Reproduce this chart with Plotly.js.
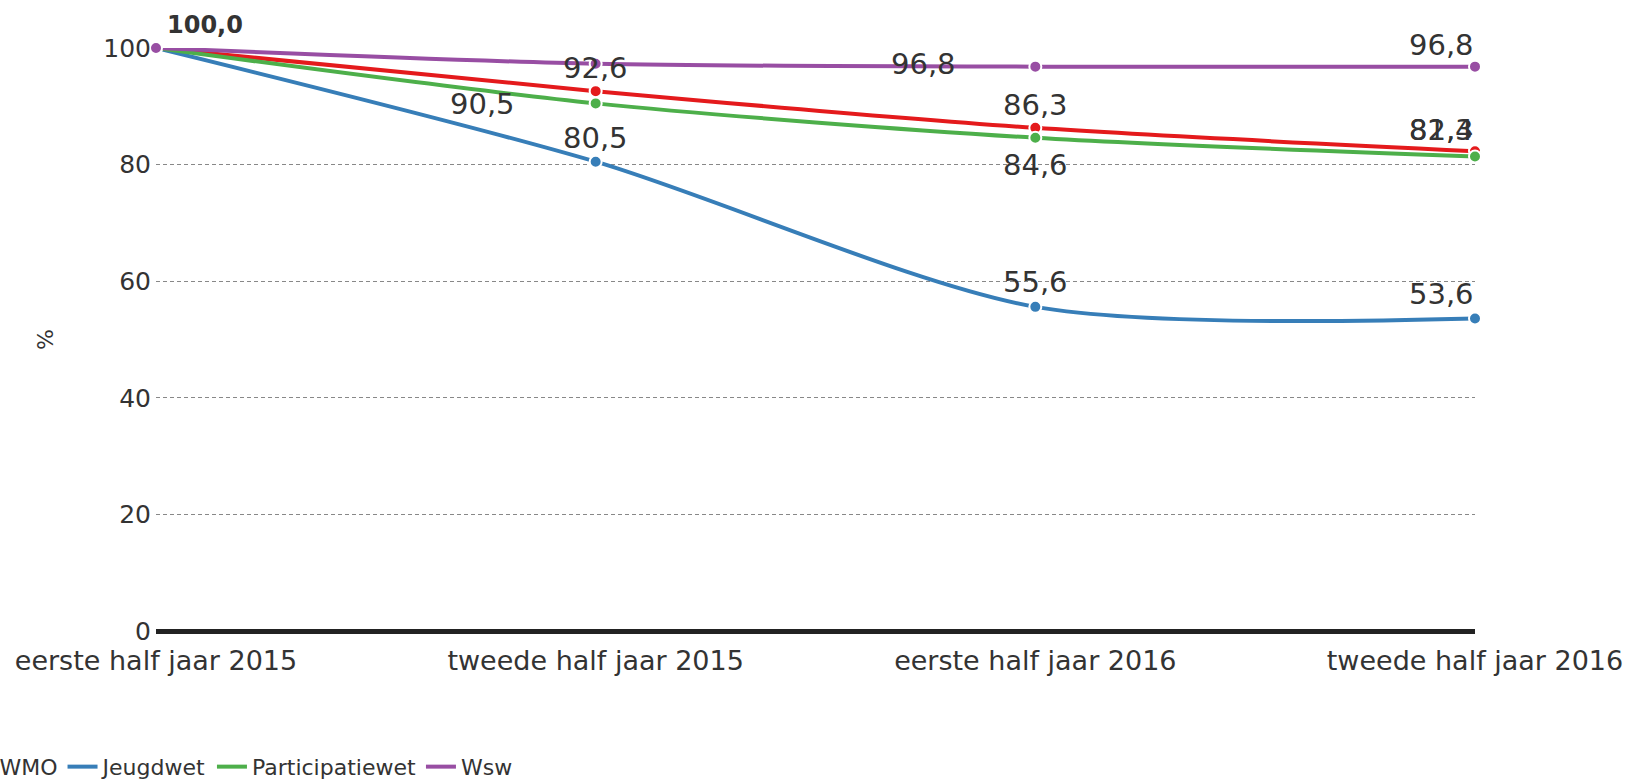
<!DOCTYPE html>
<html>
<head>
<meta charset="utf-8">
<script src="https://cdn.plot.ly/plotly-3.0.1.min.js"></script>
<style>html,body{margin:0;padding:0;background:#fff;}#chart{width:1631px;height:780px;}</style>
</head>
<body>
<div id="chart"></div>
<script>
// ---- data ----
const categories = ["eerste half jaar 2015", "tweede half jaar 2015", "eerste half jaar 2016", "tweede half jaar 2016"];
const seriesNames = ["WMO", "Jeugdwet", "Participatiewet", "Wsw"];
const wmo = [100.0, 92.6, 86.3, 82.3];
const jeugdwet = [100.0, 80.5, 55.6, 53.6];
const participatiewet = [100.0, 90.5, 84.6, 81.4];
const wsw = [100.0, 97.3, 96.8, 96.8];
const yTicks = [0, 20, 40, 60, 80, 100];

// ---- styles ----
const colors = ["#e41a1c", "#377eb8", "#4daf4a", "#984ea3"];
const FONT = "DejaVu Sans, Verdana, sans-serif";
// label offsets per point [xshift, yshift, bold]; null = no label
const labelOffsets = [
  [[49, 23, true], [0, 23], [0, 23], [-34, 21]],
  [null, [0, 24], [0, 25], [-34, 25]],
  [null, [-113, -1], [0, -27], [-34, 26]],
  [null, null, [-112, 3], [-34, 22]]
];

const allSeries = [wmo, jeugdwet, participatiewet, wsw];
const fmt = v => v.toFixed(1).replace('.', ',');

const traces = [];
allSeries.forEach((vals, i) => {
  traces.push({
    type: 'scatter',
    mode: 'lines+markers',
    name: seriesNames[i],
    legendgroup: seriesNames[i],
    showlegend: false,
    x: categories,
    y: vals,
    line: {color: colors[i], width: 4, shape: 'spline', smoothing: 0.8},
    marker: {color: colors[i], size: 12, line: {color: '#fff', width: 2}},
    cliponaxis: false,
    hoverinfo: 'skip'
  });
});
// legend entries: line only
allSeries.forEach((vals, i) => {
  traces.push({
    type: 'scatter', mode: 'lines', name: seriesNames[i],
    legendgroup: seriesNames[i], showlegend: true,
    x: [null], y: [null],
    line: {color: colors[i], width: 4}
  });
});

const annotations = [];
allSeries.forEach((vals, i) => {
  vals.forEach((v, j) => {
    const o = labelOffsets[i][j];
    if (!o) return;
    annotations.push({
      x: categories[j], y: v, xref: 'x', yref: 'y',
      text: o[2] ? '<b>' + fmt(v) + '</b>' : fmt(v),
      showarrow: false, xshift: o[0], yshift: o[1],
      font: {family: FONT, size: o[2] ? 24 : 29, color: '#333'}
    });
  });
});

const layout = {
  width: 1631, height: 780,
  paper_bgcolor: '#fff', plot_bgcolor: '#fff',
  margin: {l: 156, r: 156, t: 48, b: 149, autoexpand: false},
  font: {family: FONT, color: '#333'},
  showlegend: true,
  legend: {
    orientation: 'h', x: -0.149, xanchor: 'left', y: -0.233, yanchor: 'middle',
    font: {family: FONT, size: 22, color: '#333'}, itemwidth: 30,
    bgcolor: 'rgba(0,0,0,0)'
  },
  xaxis: {
    type: 'category', range: [0, 3], showgrid: false, zeroline: false,
    showline: false, ticks: 'outside', ticklen: 6, tickcolor: 'rgba(0,0,0,0)',
    tickfont: {family: FONT, size: 27, color: '#333'}, fixedrange: true
  },
  yaxis: {
    range: [0, 100], tickvals: yTicks, ticktext: yTicks.map(String),
    showgrid: true, gridcolor: '#888', gridwidth: 1, griddash: '4px,3px',
    zeroline: true, zerolinecolor: '#222', zerolinewidth: 5,
    showline: false, ticks: '', ticklabelstandoff: 4,
    tickfont: {family: FONT, size: 25, color: '#333'},
    title: {text: '%', font: {family: FONT, size: 22, color: '#333'}, standoff: 43},
    fixedrange: true
  },
  annotations: annotations
};

Plotly.newPlot('chart', traces, layout, {displayModeBar: false, staticPlot: true});
</script>
</body>
</html>
